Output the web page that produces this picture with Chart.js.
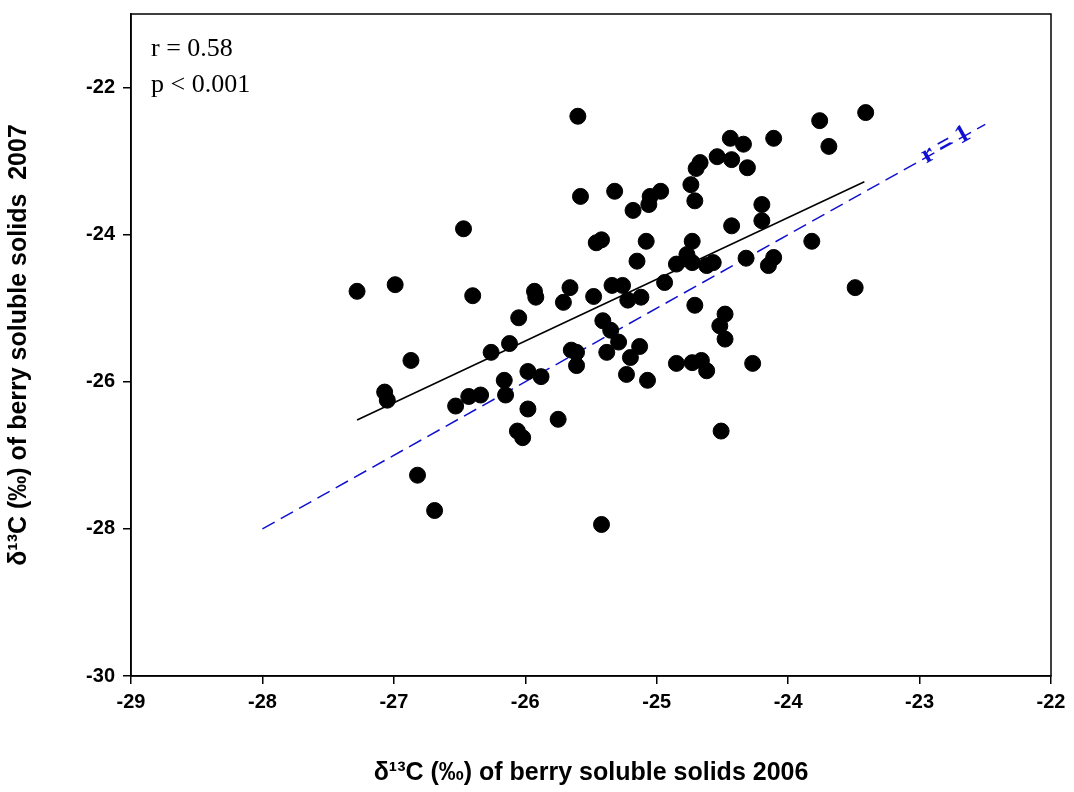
<!DOCTYPE html>
<html>
<head>
<meta charset="utf-8">
<script src="https://cdn.jsdelivr.net/npm/chart.js@4/dist/chart.umd.min.js"></script>
<style>
  html, body { margin: 0; padding: 0; background: #fff; }
  #wrap { width: 1074px; height: 792px; }
</style>
</head>
<body>
<div id="wrap"><canvas id="c"></canvas></div>
<script>
// Observed values (2006 vs 2007)
const x2006 = [-27.28,-26.99,-26.47,-26.40,-26.87,-27.07,-27.05,-26.82,-26.69,-26.53,-26.43,-26.34,-26.26,-26.16,-26.15,-26.12,-26.05,-26.06,-26.02,-25.98,-25.98,-25.93,-25.92,-25.88,-25.75,-25.71,-25.66,-25.65,-25.60,-25.61,-25.61,-25.58,-25.48,-25.46,-25.42,-25.41,-25.38,-25.35,-25.34,-25.32,-25.29,-25.26,-25.23,-25.22,-25.20,-25.18,-25.42,-25.15,-25.12,-25.13,-25.08,-25.07,-25.06,-25.05,-24.97,-24.94,-24.85,-24.85,-24.77,-24.74,-24.73,-24.73,-24.73,-24.71,-24.71,-24.70,-24.67,-24.66,-24.62,-24.62,-24.57,-24.54,-24.52,-24.51,-24.48,-24.48,-24.44,-24.43,-24.43,-24.34,-24.32,-24.31,-24.27,-24.20,-24.20,-24.15,-24.11,-24.11,-23.82,-23.76,-23.69,-23.49,-23.41];
const y2007 = [-24.77,-24.68,-23.92,-24.83,-25.71,-26.14,-26.25,-27.27,-27.75,-26.33,-26.20,-26.18,-25.60,-25.98,-26.18,-25.48,-25.13,-26.67,-26.76,-25.86,-26.37,-24.77,-24.85,-25.93,-26.51,-24.92,-24.72,-25.57,-22.39,-25.60,-25.78,-23.48,-24.84,-24.11,-24.07,-25.17,-25.60,-25.30,-24.69,-23.41,-25.46,-24.69,-25.90,-24.89,-25.67,-23.67,-27.94,-24.36,-24.85,-25.52,-24.09,-25.98,-23.59,-23.48,-23.41,-24.65,-24.40,-25.75,-24.27,-23.32,-24.09,-24.38,-25.74,-23.54,-24.96,-23.10,-23.02,-25.71,-24.42,-25.85,-24.38,-22.94,-25.24,-26.67,-25.08,-25.42,-22.69,-22.98,-23.88,-22.77,-24.32,-23.09,-25.75,-23.59,-23.81,-24.42,-24.31,-22.69,-24.09,-22.45,-22.80,-24.72,-22.34];

// Regression line ends and 1:1 line ends
const fitX = [-27.28, -23.42];
const fitY = [-26.52, -23.28];
const oneX = [-28, -22.5];

const xTicks = [-29,-28,-27,-26,-25,-24,-23,-22];
const yTicks = [-30,-28,-26,-24,-22];

const boxPlugin = {
  id: 'box',
  afterDraw(chart) {
    const a = chart.chartArea, ctx = chart.ctx;
    ctx.save();
    ctx.strokeStyle = '#000';
    ctx.lineWidth = 1.5;
    ctx.strokeRect(a.left, a.top, a.right - a.left, a.bottom - a.top);
    ctx.fillStyle = '#000';
    ctx.font = '26px "Liberation Serif"';
    ctx.textBaseline = 'alphabetic';
    ctx.fillText('r = 0.58', a.left + 20, a.top + 42);
    ctx.fillText('p < 0.001', a.left + 20, a.top + 78);
    // r = 1 label along the 1:1 line
    const xs = chart.scales.x, ys = chart.scales.y;
    const px = xs.getPixelForValue(-22.95), py = ys.getPixelForValue(-22.95);
    const ang = Math.atan2(ys.getPixelForValue(-22.5) - ys.getPixelForValue(-28), xs.getPixelForValue(-22.5) - xs.getPixelForValue(-28));
    ctx.translate(px, py + 6);
    ctx.rotate(ang);
    ctx.fillStyle = '#1010d0';
    ctx.font = 'bold 26px "Liberation Serif"';
    ctx.fillText('r = 1', 0, 0);
    ctx.restore();
  }
};

const pts = x2006.map((v, i) => ({ x: v, y: y2007[i] }));

new Chart(document.getElementById('c'), {
  type: 'scatter',
  data: {
    datasets: [
      { data: pts, backgroundColor: '#000', borderColor: '#000', pointRadius: 8, pointHoverRadius: 8 },
      { type: 'line', data: fitX.map((v, i) => ({ x: v, y: fitY[i] })), borderColor: '#000', borderWidth: 1.5, pointRadius: 0, fill: false },
      { type: 'line', data: oneX.map(v => ({ x: v, y: v })), borderColor: '#1010d0', borderWidth: 1.5, borderDash: [14, 7], pointRadius: 0, fill: false }
    ]
  },
  options: {
    responsive: true,
    maintainAspectRatio: false,
    animation: false,
    layout: { padding: { top: 14, right: 23 } },
    plugins: { legend: { display: false }, tooltip: { enabled: false } },
    scales: {
      x: {
        type: 'linear', min: -29, max: -22,
        afterBuildTicks: s => { s.ticks = xTicks.map(v => ({ value: v })); },
        afterFit: s => { s.height = 116; },
        grid: { drawOnChartArea: false, tickLength: 8, color: '#000', lineWidth: 1.5 },
        border: { color: '#000', width: 1.5 },
        ticks: { color: '#000', font: { family: 'Liberation Sans', size: 20, weight: 'bold' }, padding: 6 },
        title: { display: true, text: 'δ¹³C (‰) of berry soluble solids 2006', color: '#000', font: { family: 'Liberation Sans', size: 25, weight: 'bold' }, padding: { top: 22 } }
      },
      y: {
        type: 'linear', min: -30, max: -21,
        afterBuildTicks: s => { s.ticks = yTicks.map(v => ({ value: v })); },
        afterFit: s => { s.width = 131; s.paddingTop = 0; },
        grid: { drawOnChartArea: false, tickLength: 8, color: '#000', lineWidth: 1.5 },
        border: { color: '#000', width: 1.5 },
        ticks: { color: '#000', font: { family: 'Liberation Sans', size: 20, weight: 'bold' }, padding: 8 },
        title: { display: true, text: 'δ¹³C (‰) of berry soluble solids  2007', color: '#000', font: { family: 'Liberation Sans', size: 25, weight: 'bold' }, padding: { bottom: 18 } }
      }
    }
  },
  plugins: [boxPlugin]
});
</script>
</body>
</html>
